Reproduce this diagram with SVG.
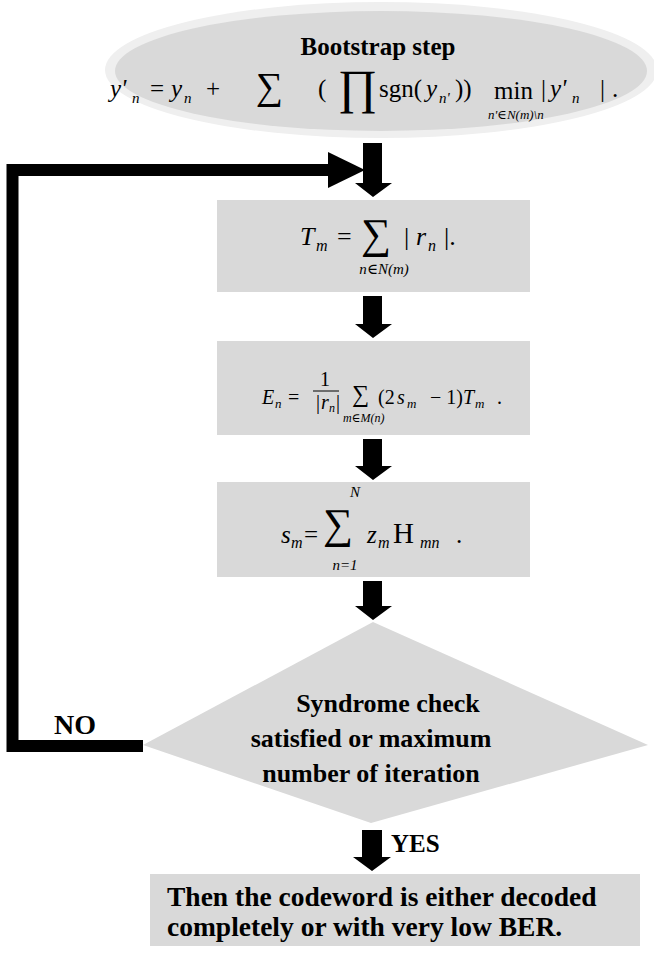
<svg xmlns="http://www.w3.org/2000/svg" width="654" height="958" viewBox="0 0 654 958" font-family="'Liberation Serif', 'DejaVu Serif', 'Noto Serif', serif">
<style>
.box{fill:#d9d9d9}
.arr{fill:#000}
.t{font-family:'Liberation Serif','DejaVu Serif','Noto Serif',serif;fill:#000}
.b{font-weight:bold}
.i{font-style:italic}
</style>
<rect width="654" height="958" fill="#fff"/>
<g id="connectors">
<path d="M143 746 H12.5 V170 H330" fill="none" stroke="#000" stroke-width="12"/>
<polygon class="arr" points="328,152 365,170 328,188"/>
<polygon class="arr" points="363,143 382,143 382,183 392,183 373,197 355,183 363,183"/>
<polygon class="arr" points="363,296 382,296 382,324 392,324 373,338 355,324 363,324"/>
<polygon class="arr" points="363,439 382,439 382,466 392,466 373,480 355,466 363,466"/>
<polygon class="arr" points="363,581 382,581 382,606 392,606 373,620 355,606 363,606"/>
<polygon class="arr" points="362,830 382,830 382,857 391,857 372,871 353,857 362,857"/>
<text class="t b" x="54" y="734" font-size="28">NO</text>
<text class="t b" x="391" y="852" font-size="25">YES</text>
</g>
<g id="bootstrap">
<ellipse cx="381" cy="70" rx="276" ry="68" fill="#efefef"/>
<ellipse cx="381" cy="71" rx="266" ry="60" fill="#d9d9d9"/>
<text class="t b" x="378" y="55" font-size="25" text-anchor="middle">Bootstrap step</text>
<g class="t" font-size="25">
<text x="110" y="97" class="i">y'</text>
<text x="132" y="103" class="i" font-size="15">n</text>
<text x="150" y="97">=</text>
<text x="171" y="97" class="i">y</text>
<text x="184" y="103" class="i" font-size="15">n</text>
<text x="206" y="97">+</text>
<text x="256" y="99" font-size="38">∑</text>
<text x="318" y="97">(</text>
<text x="338" y="103" font-size="48">∏</text>
<text x="379" y="97">sgn(</text>
<text x="426" y="97" class="i">y</text>
<text x="439" y="103" class="i" font-size="15">n'</text>
<text x="455" y="97">))</text>
<text x="494" y="99">min</text>
<text x="488" y="119" class="i" font-size="13">n'∈N(m)\n</text>
<text x="541" y="97">|</text>
<text x="550" y="97" class="i">y'</text>
<text x="572" y="103" class="i" font-size="15">n</text>
<text x="600" y="97">|</text>
<text x="612" y="97">.</text>
</g>
</g>
<g id="box-tm">
<rect class="box" x="217" y="200" width="313" height="92"/>
<g class="t" font-size="26">
<text x="300" y="245" class="i">T</text>
<text x="316" y="251" class="i" font-size="16">m</text>
<text x="337" y="245">=</text>
<text x="361" y="248" font-size="42">∑</text>
<text x="404" y="245">|</text>
<text x="416" y="245" class="i">r</text>
<text x="428" y="251" class="i" font-size="16">n</text>
<text x="444" y="245">|.</text>
<text x="384" y="274" class="i" font-size="15" text-anchor="middle">n∈N(m)</text>
</g>
</g>
<g id="box-en">
<rect class="box" x="217" y="341" width="313" height="94"/>
<g class="t" font-size="20">
<text x="262" y="404" class="i">E</text>
<text x="275" y="408" class="i" font-size="13">n</text>
<text x="288" y="404">=</text>
<text x="320" y="386">1</text>
<line x1="313" y1="391" x2="339" y2="391" stroke="#000" stroke-width="1"/>
<text x="316" y="409">|</text>
<text x="321" y="409" class="i">r</text>
<text x="329" y="412" class="i" font-size="12">n</text>
<text x="336" y="409">|</text>
<text x="352" y="402" font-size="24">∑</text>
<text x="343" y="422" class="i" font-size="12">m∈M(n)</text>
<text x="378" y="404">(2</text>
<text x="397" y="404" class="i">s</text>
<text x="407" y="408" class="i" font-size="13">m</text>
<text x="430" y="404">− 1)</text>
<text x="463" y="404" class="i">T</text>
<text x="475" y="408" class="i" font-size="13">m</text>
<text x="497" y="404">.</text>
</g>
</g>
<g id="box-sm">
<rect class="box" x="217" y="482" width="313" height="95"/>
<g class="t" font-size="25">
<text x="281" y="543" class="i">s</text>
<text x="291" y="548" class="i" font-size="16">m</text>
<text x="304" y="543">=</text>
<text x="323" y="538" font-size="42">∑</text>
<text x="350" y="497" class="i" font-size="15">N</text>
<text x="367" y="543" class="i">z</text>
<text x="378" y="548" class="i" font-size="16">m</text>
<text x="393" y="543" font-size="29">H</text>
<text x="420" y="548" class="i" font-size="16">mn</text>
<text x="456" y="543">.</text>
<text x="345" y="570" class="i" font-size="15" text-anchor="middle">n=1</text>
</g>
</g>
<g id="decision">
<polygon class="box" points="373,622 648,745 371,823 143,745"/>
<g class="t b" font-size="26" text-anchor="middle">
<text x="388" y="712">Syndrome check</text>
<text x="371" y="747">satisfied or maximum</text>
<text x="371" y="782">number of iteration</text>
</g>
</g>
<g id="result">
<rect class="box" x="150" y="874" width="490" height="72"/>
<g class="t b" font-size="27.5">
<text x="167" y="906">Then the codeword is either decoded</text>
<text x="167" y="936">completely or with very low BER.</text>
</g>
</g>
</svg>
